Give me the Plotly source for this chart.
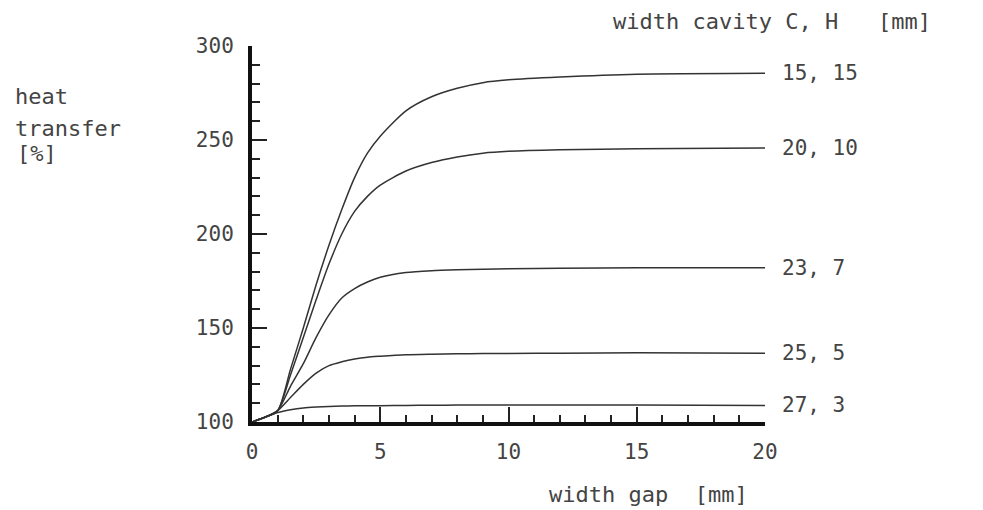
import plotly.graph_objects as go

# ---- data ----
gap_mm = [0, 0.5, 1, 1.5, 2, 2.5, 3, 3.5, 4, 4.5, 5, 6, 7, 8, 9, 10, 12, 15, 20]

cavity_labels = ["15, 15", "20, 10", "23, 7", "25, 5", "27, 3"]

ht_15_15 = [100, 102.5, 106, 128, 150, 173, 194, 213, 230, 243, 252, 265.5, 273, 277.5, 280.5, 282, 283.5, 285, 285.5]
ht_20_10 = [100, 102.5, 106, 125, 145, 165, 184, 200, 212, 220, 226, 233.5, 238, 241, 243, 244, 244.8, 245.3, 245.7]
ht_23_7 = [100, 102.5, 106, 119, 131, 145, 157, 166, 171, 174.5, 177, 179.5, 180.5, 181, 181.3, 181.5, 181.8, 182, 182]
ht_25_5 = [100, 102.5, 106, 113, 120, 126, 130, 132, 133.5, 134.5, 135, 135.8, 136.1, 136.3, 136.4, 136.5, 136.6, 136.8, 136.6]
ht_27_3 = [100, 102.5, 105, 106.5, 107.5, 108, 108.3, 108.5, 108.6, 108.7, 108.7, 108.8, 108.9, 109, 109, 109, 109, 109, 108.8]

series = [ht_15_15, ht_20_10, ht_23_7, ht_25_5, ht_27_3]

x_ticks = [0, 5, 10, 15, 20]
y_ticks = [100, 150, 200, 250, 300]

# ---- style ----
FONT = "DejaVu Sans Mono"
TXT = "#444444"
LINE = "#333333"
OFF = 8                      # page body margin
W, H = 983 - OFF, 510 - OFF
L, T = 252 - OFF, 46 - OFF
PW, PH = 513, 376
R, B = W - L - PW, H - T - PH

fig = go.Figure()
for vals, name in zip(series, cavity_labels):
    fig.add_trace(go.Scatter(
        x=gap_mm, y=vals, mode="lines", name=name,
        line=dict(color=LINE, width=1.5, shape="spline", smoothing=0.7),
        showlegend=False, hoverinfo="skip"))
    fig.add_annotation(x=gap_mm[-1], y=vals[-1], text=name, showarrow=False,
                       xanchor="left", yanchor="middle", xshift=15,
                       font=dict(family=FONT, size=21, color=TXT))

def px_x(p):
    return (p - OFF - L) / PW

def px_y(p):
    return (T + PH - (p - OFF)) / PH

for txt, xx, yy in [("heat", 13, 96), ("transfer", 13, 129), ("[%]", 15, 153)]:
    fig.add_annotation(xref="paper", yref="paper", x=px_x(xx), y=px_y(yy),
                       xanchor="left", yanchor="middle", showarrow=False,
                       text=txt, font=dict(family=FONT, size=22, color=TXT))
fig.add_annotation(xref="paper", yref="paper", x=px_x(772), y=px_y(21),
                   xanchor="center", yanchor="middle", showarrow=False,
                   text="width cavity C, H\u00a0\u00a0\u00a0[mm]",
                   font=dict(family=FONT, size=22, color=TXT))
fig.add_annotation(xref="paper", yref="paper", x=px_x(648), y=px_y(495),
                   xanchor="center", yanchor="middle", showarrow=False,
                   text="width gap\u00a0\u00a0[mm]",
                   font=dict(family=FONT, size=22, color=TXT))

fig.update_xaxes(range=[0, 20], tickvals=x_ticks, ticktext=[str(v) for v in x_ticks],
                 showline=True, linecolor="#111111", linewidth=4,
                 ticks="inside", ticklen=15, tickwidth=1.5, tickcolor="#222222",
                 minor=dict(dtick=1, ticks="inside", ticklen=7, tickwidth=1.5, tickcolor="#222222"),
                 showgrid=False, zeroline=False, ticklabelstandoff=8,
                 tickfont=dict(family=FONT, size=21, color=TXT))
fig.update_yaxes(range=[100, 300], tickvals=y_ticks, ticktext=[str(v) for v in y_ticks],
                 showline=True, linecolor="#111111", linewidth=4,
                 ticks="inside", ticklen=15, tickwidth=2, tickcolor="#222222",
                 minor=dict(dtick=10, ticks="inside", ticklen=8, tickwidth=2, tickcolor="#222222"),
                 showgrid=False, zeroline=False, ticklabelstandoff=10,
                 tickfont=dict(family=FONT, size=21, color=TXT))

fig.update_layout(width=W, height=H, margin=dict(l=L, r=R, t=T, b=B),
                  paper_bgcolor="white", plot_bgcolor="white")

fig.write_html("out.html")
